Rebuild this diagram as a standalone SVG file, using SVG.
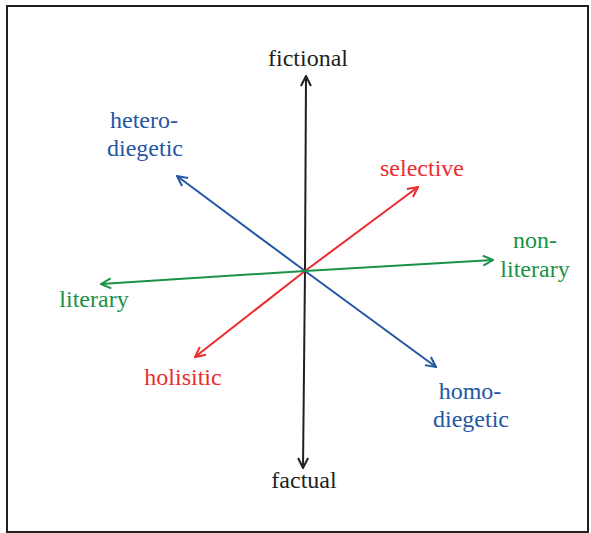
<svg xmlns="http://www.w3.org/2000/svg" width="591" height="533" viewBox="0 0 591 533">
<style>
text{font-size:24px;text-anchor:middle}
.k{fill:#231f20}.b{fill:#2456a4}.r{fill:#ed2b2f}.g{fill:#1a9245}
line{stroke-width:2;fill:none}
</style>
<defs>
<marker id="mk" viewBox="0 0 12 12" refX="11" refY="6" markerWidth="12" markerHeight="12" markerUnits="userSpaceOnUse" orient="auto"><path d="M1,1 L11,6 L1,11" fill="none" stroke="#231f20" stroke-width="2"/></marker>
<marker id="mb" viewBox="0 0 12 12" refX="11" refY="6" markerWidth="12" markerHeight="12" markerUnits="userSpaceOnUse" orient="auto"><path d="M1,1 L11,6 L1,11" fill="none" stroke="#2456a4" stroke-width="2"/></marker>
<marker id="mr" viewBox="0 0 12 12" refX="11" refY="6" markerWidth="12" markerHeight="12" markerUnits="userSpaceOnUse" orient="auto"><path d="M1,1 L11,6 L1,11" fill="none" stroke="#ed2b2f" stroke-width="2"/></marker>
<marker id="mg" viewBox="0 0 12 12" refX="11" refY="6" markerWidth="12" markerHeight="12" markerUnits="userSpaceOnUse" orient="auto"><path d="M1,1 L11,6 L1,11" fill="none" stroke="#1a9245" stroke-width="2"/></marker>
</defs>
<rect x="7" y="6" width="581" height="526" fill="#fff" stroke="#231f20" stroke-width="2"/>
<g id="connectors">
<line x1="305" y1="271" x2="306" y2="76" stroke="#231f20" marker-end="url(#mk)"/>
<line x1="305" y1="271" x2="303" y2="468" stroke="#231f20" marker-end="url(#mk)"/>
<line x1="305" y1="271" x2="177" y2="176" stroke="#2456a4" marker-end="url(#mb)"/>
<line x1="305" y1="271" x2="436" y2="367" stroke="#2456a4" marker-end="url(#mb)"/>
<line x1="305" y1="271" x2="418" y2="187" stroke="#ed2b2f" marker-end="url(#mr)"/>
<line x1="305" y1="271" x2="195" y2="357" stroke="#ed2b2f" marker-end="url(#mr)"/>
<line x1="305" y1="271" x2="101" y2="284" stroke="#1a9245" marker-end="url(#mg)"/>
<line x1="305" y1="271" x2="493" y2="260" stroke="#1a9245" marker-end="url(#mg)"/>
</g>
<g font-family="'Liberation Serif', 'DejaVu Serif', serif">
<g id="fictional"><text class="k" x="308" y="66">fictional</text></g>
<g id="factual"><text class="k" x="304" y="488">factual</text></g>
<g id="heterodiegetic"><text class="b" x="144" y="128">hetero-</text><text class="b" x="145" y="156">diegetic</text></g>
<g id="homodiegetic"><text class="b" x="470" y="399">homo-</text><text class="b" x="471" y="427">diegetic</text></g>
<g id="selective"><text class="r" x="422" y="176">selective</text></g>
<g id="holisitic"><text class="r" x="183" y="385">holisitic</text></g>
<g id="nonliterary"><text class="g" x="535" y="248">non-</text><text class="g" x="535" y="277">literary</text></g>
<g id="literary"><text class="g" x="94" y="307">literary</text></g>
</g>
</svg>
